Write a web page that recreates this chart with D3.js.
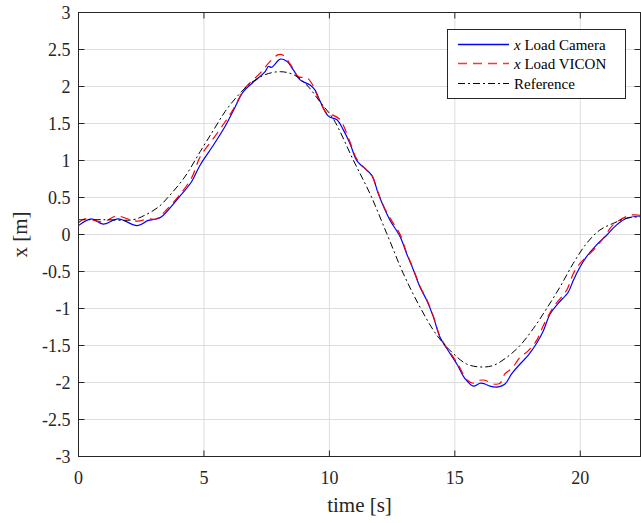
<!DOCTYPE html>
<html>
<head>
<meta charset="utf-8">
<script src="https://cdn.jsdelivr.net/npm/d3@7"></script>
<style>
  body { margin: 0; background: #fff; }
  svg { display: block; }
  text { font-family: "Liberation Serif", "Times New Roman", serif; }
</style>
</head>
<body>
<div id="chart"></div>
<script>
// values
var camT = [0, 0.52, 0.98, 1.58, 2.35, 2.78, 3.1, 3.31, 3.97, 4.5, 4.85, 5.38, 5.84, 6.18, 6.57, 6.97, 7.44, 7.57, 7.7, 8.04, 8.3, 8.57, 8.83, 9.23, 9.43, 9.63, 9.96, 10.3, 10.56, 10.82, 11.09, 11.35, 11.69, 11.95, 12.22, 12.42, 12.82, 13.08, 13.35, 13.61, 13.88, 14.14, 14.41, 14.68, 15.08, 15.41, 15.74, 16.0, 16.2, 16.4, 16.73, 17.0, 17.27, 17.6, 17.93, 18.26, 18.53, 18.8, 19.12, 19.52, 19.72, 19.99, 20.25, 20.65, 21.05, 21.45, 21.85, 22.4]
var camX = [0.12, 0.21, 0.14, 0.21, 0.12, 0.19, 0.21, 0.24, 0.49, 0.71, 0.94, 1.21, 1.46, 1.68, 1.93, 2.06, 2.2, 2.27, 2.26, 2.37, 2.34, 2.22, 2.09, 2.02, 1.95, 1.80, 1.60, 1.55, 1.41, 1.23, 1.0, 0.91, 0.80, 0.55, 0.33, 0.19, -0.03, -0.26, -0.48, -0.71, -0.89, -1.11, -1.39, -1.54, -1.75, -1.95, -2.05, -2.01, -2.02, -2.05, -2.06, -2.02, -1.88, -1.75, -1.63, -1.47, -1.30, -1.07, -0.93, -0.78, -0.62, -0.44, -0.30, -0.14, -0.01, 0.13, 0.22, 0.25]

var viconT = [0, 0.25, 0.52, 0.98, 1.51, 1.98, 2.35, 2.78, 3.1, 3.44, 3.97, 4.5, 4.85, 5.38, 5.84, 6.18, 6.64, 7.24, 7.64, 7.97, 8.17, 8.5, 8.77, 9.1, 9.3, 9.63, 9.9, 10.16, 10.43, 10.82, 11.09, 11.49, 11.69, 11.95, 12.22, 12.55, 12.82, 13.08, 13.35, 13.61, 13.88, 14.14, 14.41, 14.68, 15.08, 15.5, 15.74, 16.0, 16.2, 16.53, 16.8, 17.0, 17.27, 17.6, 17.93, 18.26, 18.53, 18.93, 19.46, 19.72, 19.99, 20.52, 20.92, 21.31, 21.98, 22.4]
var viconX = [0.16, 0.21, 0.2, 0.17, 0.25, 0.21, 0.18, 0.21, 0.21, 0.31, 0.51, 0.76, 1.05, 1.30, 1.52, 1.70, 1.98, 2.18, 2.34, 2.43, 2.42, 2.27, 2.13, 2.12, 2.04, 1.79, 1.64, 1.61, 1.55, 1.25, 1.02, 0.87, 0.80, 0.56, 0.34, 0.15, 0.0, -0.25, -0.47, -0.70, -0.88, -1.10, -1.38, -1.53, -1.73, -1.97, -2.01, -1.97, -1.97, -2.02, -2.01, -1.88, -1.81, -1.66, -1.57, -1.43, -1.23, -0.98, -0.75, -0.53, -0.39, -0.21, -0.05, 0.13, 0.26, 0.26]

var refT = [0, 1, 2.18, 2.64, 3.18, 3.64, 4.24, 4.85, 5.38, 5.84, 6.31, 6.84, 7.44, 8.04, 8.57, 9.1, 9.63, 10.16, 10.96, 11.62, 12.29, 12.95, 13.61, 14.28, 14.94, 15.47, 16.0, 16.53, 17.07, 17.6, 18.13, 18.66, 19.19, 19.72, 20.25, 20.78, 21.31, 21.85, 22.4]
var refX = [0.2, 0.2, 0.2, 0.26, 0.37, 0.53, 0.78, 1.12, 1.41, 1.66, 1.86, 2.04, 2.16, 2.2, 2.16, 2.02, 1.79, 1.56, 1.0, 0.55, 0.01, -0.53, -0.98, -1.36, -1.61, -1.75, -1.79, -1.77, -1.66, -1.50, -1.27, -1.0, -0.71, -0.39, -0.12, 0.06, 0.15, 0.22, 0.24]

var xTicks = [0, 5, 10, 15, 20]
var yTicks = [-3, -2.5, -2, -1.5, -1, -0.5, 0, 0.5, 1, 1.5, 2, 2.5, 3]
var legendNames = ["Load Camera", "Load VICON", "Reference"]

var W = 641, H = 523
var m = {left: 78.5, right: 640.5, top: 12.5, bottom: 456.5}
var font = "Liberation Serif"
var axisCol = "#262626"

var x = d3.scaleLinear().domain([0, 22.4]).range([m.left, m.right])
var y = d3.scaleLinear().domain([-3, 3]).range([m.bottom, m.top])

var svg = d3.select("#chart").append("svg")
    .attr("width", W)
    .attr("height", H)

svg.append("clipPath").attr("id", "clip")
    .append("rect")
    .attr("x", m.left).attr("y", m.top)
    .attr("width", m.right - m.left).attr("height", m.bottom - m.top)

// grid
var grid = svg.append("g")
grid.selectAll(".gx").data(xTicks.filter(d => d > 0)).enter().append("line")
    .attr("x1", d => x(d)).attr("x2", d => x(d))
    .attr("y1", m.top).attr("y2", m.bottom)
    .attr("stroke", "#dedede").attr("stroke-width", 1)
grid.selectAll(".gy").data(yTicks.filter(d => d > -3 && d < 3)).enter().append("line")
    .attr("y1", d => y(d)).attr("y2", d => y(d))
    .attr("x1", m.left).attr("x2", m.right)
    .attr("stroke", "#dedede").attr("stroke-width", 1)

// lines
function toPts(ts, vs) { return ts.map((t, i) => [t, vs[i]]) }
var line = d3.line()
    .x(d => x(d[0]))
    .y(d => y(d[1]))
    .curve(d3.curveCatmullRom.alpha(0.5))

var plot = svg.append("g").attr("clip-path", "url(#clip)")
plot.append("path").datum(toPts(camT, camX))
    .attr("d", line).attr("fill", "none")
    .attr("stroke", "#0000ff").attr("stroke-width", 1.2)
plot.append("path").datum(toPts(viconT, viconX))
    .attr("d", line).attr("fill", "none")
    .attr("stroke", "#ff0000").attr("stroke-width", 1.2)
    .attr("stroke-dasharray", "9,6")
plot.append("path").datum(toPts(refT, refX))
    .attr("d", line).attr("fill", "none")
    .attr("stroke", "#000000").attr("stroke-width", 1)
    .attr("stroke-dasharray", "7,3,2,3")

// box + ticks
svg.append("rect")
    .attr("x", m.left).attr("y", m.top)
    .attr("width", m.right - m.left).attr("height", m.bottom - m.top)
    .attr("fill", "none").attr("stroke", axisCol).attr("stroke-width", 1)

var tl = 6
var ticks = svg.append("g").attr("stroke", axisCol).attr("stroke-width", 1)
xTicks.forEach(function(t) {
    ticks.append("line").attr("x1", x(t)).attr("x2", x(t)).attr("y1", m.bottom).attr("y2", m.bottom - tl)
    ticks.append("line").attr("x1", x(t)).attr("x2", x(t)).attr("y1", m.top).attr("y2", m.top + tl)
})
yTicks.forEach(function(v) {
    ticks.append("line").attr("y1", y(v)).attr("y2", y(v)).attr("x1", m.left).attr("x2", m.left + tl)
    ticks.append("line").attr("y1", y(v)).attr("y2", y(v)).attr("x1", m.right).attr("x2", m.right - tl)
})

svg.append("g").selectAll("text").data(xTicks).enter().append("text")
    .attr("x", d => x(d)).attr("y", 484)
    .attr("text-anchor", "middle")
    .attr("font-family", font)
    .attr("font-size", 18).attr("fill", axisCol)
    .text(d => d)
svg.append("g").selectAll("text").data(yTicks).enter().append("text")
    .attr("x", 70.5).attr("y", d => y(d) + 6)
    .attr("text-anchor", "end")
    .attr("font-family", font)
    .attr("font-size", 18).attr("fill", axisCol)
    .text(d => d)

svg.append("text")
    .attr("x", (m.left + m.right) / 2).attr("y", 512)
    .attr("text-anchor", "middle").attr("font-size", 21).attr("fill", axisCol)
    .attr("font-family", font)
    .text("time [s]")
svg.append("text")
    .attr("transform", "translate(27," + ((m.top + m.bottom) / 2) + ") rotate(-90)")
    .attr("text-anchor", "middle").attr("font-size", 21).attr("fill", axisCol)
    .attr("font-family", font)
    .text("x [m]")

// legend
var lg = svg.append("g")
lg.append("rect")
    .attr("x", 447.5).attr("y", 29.5).attr("width", 178).attr("height", 69)
    .attr("fill", "#fff").attr("stroke", axisCol).attr("stroke-width", 1)
var lgStyles = [
    {c: "#0000ff", d: null, w: 1.3},
    {c: "#ff3333", d: "9,6", w: 1.5},
    {c: "#000000", d: "7,3,2,3", w: 1}
]
var rows = [44.5, 63.5, 83.5]
legendNames.forEach(function(name, i) {
    lg.append("line")
        .attr("x1", 458).attr("x2", 509)
        .attr("y1", rows[i]).attr("y2", rows[i])
        .attr("stroke", lgStyles[i].c).attr("stroke-width", lgStyles[i].w)
        .attr("stroke-dasharray", lgStyles[i].d)
    var t = lg.append("text")
        .attr("x", 514).attr("y", rows[i] + 5)
        .attr("font-family", font)
        .attr("font-size", 15).attr("fill", "#000")
    if (i < 2) {
        t.append("tspan").attr("font-style", "italic").text("x")
        t.append("tspan").text(" " + name)
    } else {
        t.text(name)
    }
})
</script>
</body>
</html>
